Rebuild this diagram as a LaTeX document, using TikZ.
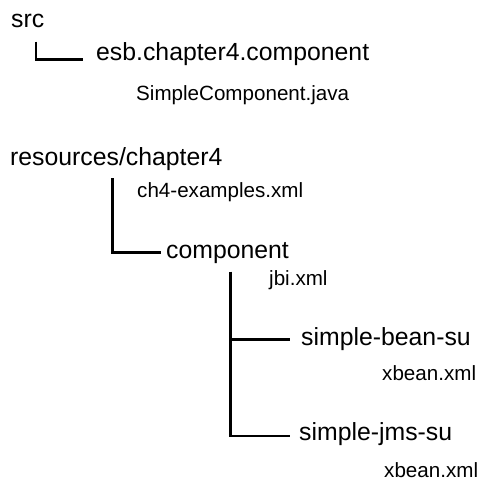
\documentclass[tikz,border=0pt]{standalone}
\usepackage{fontspec}
\setmainfont{Liberation Sans}
\begin{document}
\begin{tikzpicture}[x=1pt,y=-1pt,
  dir/.style={anchor=base west,inner sep=0pt,font=\fontsize{24.8}{28}\selectfont},
  file/.style={anchor=base west,inner sep=0pt,font=\fontsize{20.6}{24}\selectfont},
  branch/.style={line width=2.4pt,line cap=butt,line join=miter}]
\useasboundingbox (0,0) rectangle (480,480);

% directory and file labels
\node[dir]  (src)    at (11,27)  {src};
\node[dir]  (esb)    at (96,60)  {esb.chapter4.component};
\node[file] (simple) at (136,100) {SimpleComponent.java};
\node[dir]  (res)    at (10,165) {resources/chapter4};
\node[file] (ch4)    at (137,197) {ch4-examples.xml};
\node[dir]  (comp)   at (166,258) {component};
\node[file] (jbi)    at (269,285) {jbi.xml};
\node[dir]  (bean)   at (301,345) {simple-bean-su};
\node[file] (xb1)    at (382,380) {xbean.xml};
\node[dir]  (jms)    at (299,440) {simple-jms-su};
\node[file] (xb2)    at (384,477) {xbean.xml};

% tree branches
\coordinate (srcstem)  at (35.7,41.7);
\coordinate (resstem)  at (112.3,178);
\coordinate (compstem) at (230.5,271.7);
\coordinate (srcend)   at (83.3,59.3);
\coordinate (resend)   at (160.7,252.3);
\coordinate (beanend)  at (290,339.3);
\coordinate (jmsend)   at (289.5,435.7);

\draw[branch] (srcstem) |- (srcend);
\draw[branch] (resstem) |- (resend);
\draw[branch] (compstem) |- (jmsend);
\draw[branch] (compstem |- beanend) -- (beanend);
\end{tikzpicture}
\end{document}
